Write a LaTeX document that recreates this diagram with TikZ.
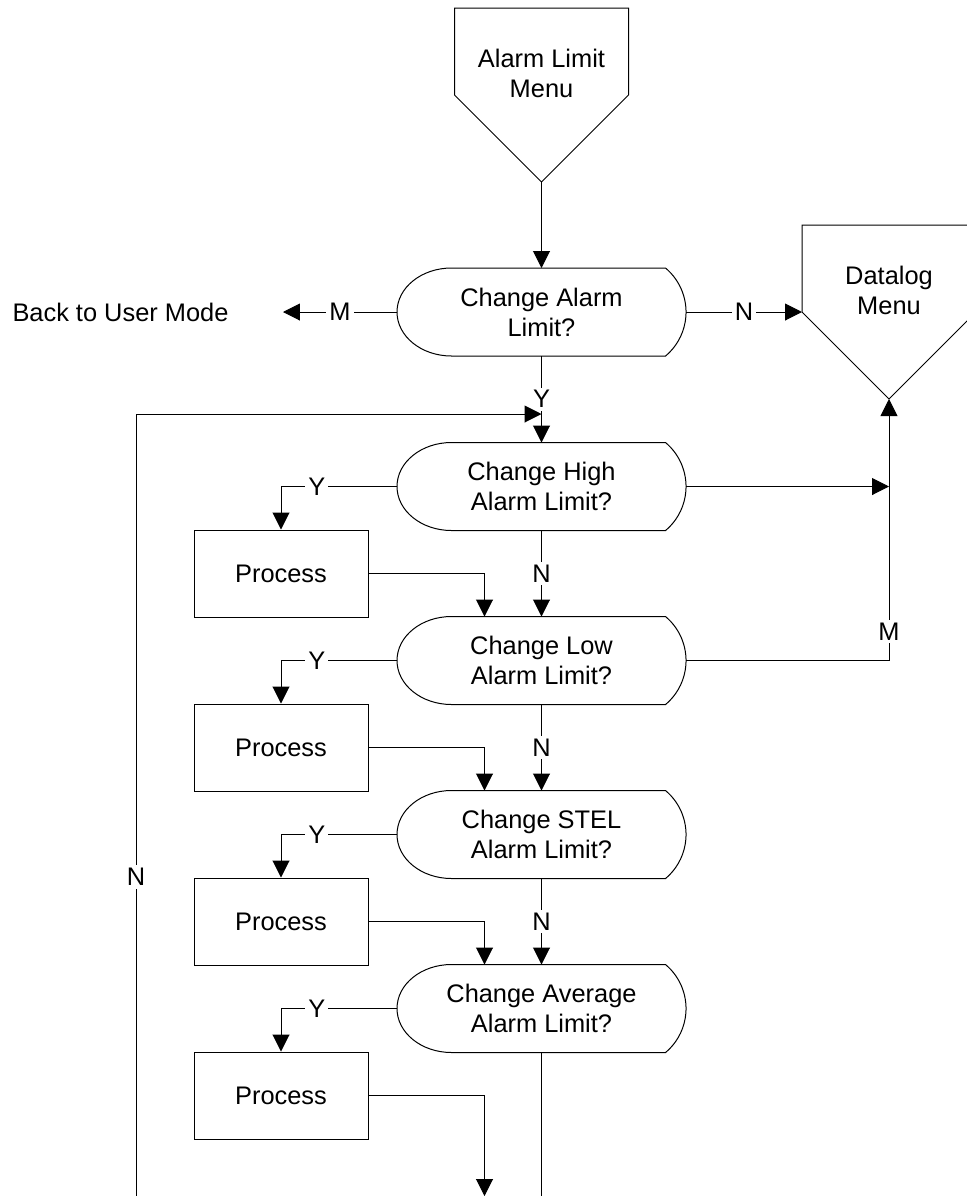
\documentclass[tikz,border=0pt]{standalone}
\usepackage{fontspec}
\setmainfont{Liberation Sans}
\usetikzlibrary{arrows.meta}

\begin{document}
\begin{tikzpicture}[x=0.5pt, y=-0.5pt, line width=0.5pt,
  >={Triangle[length=8.5pt,width=8.5pt]},
  every node/.style={font=\fontsize{12.7}{15}\selectfont},
  decbox/.style={minimum width=144.5pt, minimum height=44pt, inner sep=0pt, outer sep=0pt, align=center},
  procbox/.style={draw, minimum width=87pt, minimum height=43.5pt, inner sep=0pt},
  offpage/.style={minimum width=87pt, minimum height=87pt, inner sep=0pt, outer sep=0pt},
  yn/.style={fill=white, inner sep=1.5pt}]

\useasboundingbox (0,0) rectangle (967,1196);
\clip (0,0) rectangle (967,1196);

%% off-page menus
\node [offpage, label={[align=center,yshift=11pt]center:Alarm Limit\\Menu}] (alm) at (541.5,95) {};
\node [offpage, label={[align=center,yshift=11pt]center:Datalog\\Menu}] (dat) at (889,312) {};
\foreach \m in {alm,dat}
  \draw [shift={(\m.center)}] (-87,-87) -- (87,-87) -- (87,0) -- (0,87) -- (-87,0) -- cycle;

%% questions
\node [decbox] (cal) at (541.5,312) {Change Alarm\\Limit?};
\node [decbox] (high) at (541.5,486.5) {Change High\\Alarm Limit?};
\node [decbox] (low) at (541.5,660.5) {Change Low\\Alarm Limit?};
\node [decbox] (stel) at (541.5,834.5) {Change STEL\\Alarm Limit?};
\node [decbox] (avg) at (541.5,1008.5) {Change Average\\Alarm Limit?};
\foreach \d in {cal,high,low,stel,avg}
  \draw [shift={(\d.center)}] (-90,-44) -- (124,-44)
    arc [start angle=50, end angle=-50, radius=28.75pt] -- (-90,44)
    arc [start angle=270, end angle=90, x radius=27.25pt, y radius=22pt] -- cycle;

%% process boxes
\node [procbox] (p1) at (281,573.5) {Process};
\node [procbox] (p2) at (281,747.5) {Process};
\node [procbox] (p3) at (281,921.5) {Process};
\node [procbox] (p4) at (281,1095.5) {Process};

\node [anchor=west, inner sep=0pt] (back) at (12,312) {Back to User Mode};

\coordinate (loopst) at (136,1196);
\coordinate (loopin) at (541.5,414);
\coordinate (exitp) at (484.5,1196);
\coordinate (exitd) at (541.5,1196);

%% top part
\draw [->] (alm.south) -- (cal.north);
\draw [->] (cal.west) -- node [yn] {M} ([xshift=27pt]back.east);
\draw [->] (cal.east) -- node [yn] {N} (dat.west);
\draw [->] (cal.south) -- node [yn] {Y} (high.north);
\draw [->] (loopst) |- node [yn, pos=0.204] {N} (loopin);
\draw [->] (high.east) -- (high.east -| dat.south);
\draw [->] (low.east) -| node [yn, pos=0.555] {M} (dat.south);

%% yes branches
\draw [->] (high.west) -| node [yn, pos=0.345] {Y} (p1.north);
\draw [->] (low.west) -| node [yn, pos=0.345] {Y} (p2.north);
\draw [->] (stel.west) -| node [yn, pos=0.345] {Y} (p3.north);
\draw [->] (avg.west) -| node [yn, pos=0.345] {Y} (p4.north);

%% no branches
\draw [->] (high.south) -- node [yn] {N} (low.north);
\draw [->] (low.south) -- node [yn] {N} (stel.north);
\draw [->] (stel.south) -- node [yn] {N} (avg.north);
\draw (avg.south) -- (exitd);

%% back from process
\draw [->] (p1.east) -| ([xshift=-28.5pt]low.north);
\draw [->] (p2.east) -| ([xshift=-28.5pt]stel.north);
\draw [->] (p3.east) -| ([xshift=-28.5pt]avg.north);
\draw [->] (p4.east) -| (exitp);
\end{tikzpicture}
\end{document}
